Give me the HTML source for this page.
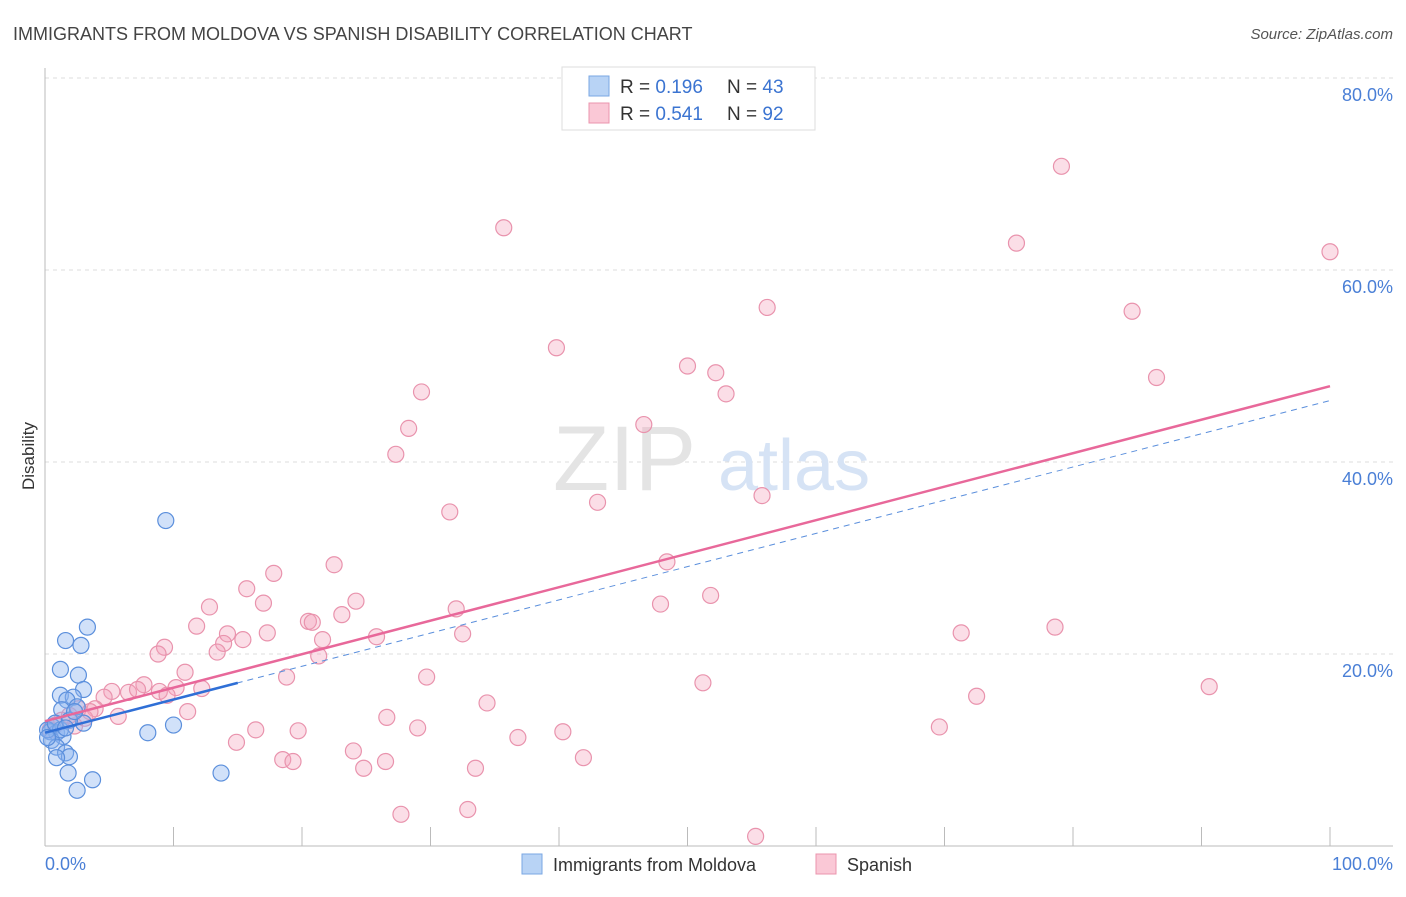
<!DOCTYPE html>
<html><head><meta charset="utf-8"><style>
body{margin:0;background:#fff;font-family:"Liberation Sans",sans-serif;}
svg text{font-family:"Liberation Sans",sans-serif;}
</style></head><body>
<svg id="chart" width="1406" height="892" viewBox="0 0 1406 892" xmlns="http://www.w3.org/2000/svg">
<text x="13" y="40" font-size="18" fill="#444">IMMIGRANTS FROM MOLDOVA VS SPANISH DISABILITY CORRELATION CHART</text>
<text x="1393" y="39" font-size="15" fill="#555" text-anchor="end" font-style="italic">Source: ZipAtlas.com</text>
<g id="grid"></g>
<g><text x="553" y="490" font-size="92" fill="#e4e4e4" font-family="Liberation Serif">ZIP</text><text x="718" y="490" font-size="72" fill="#d6e3f5">atlas</text></g>
<g id="axes"></g>
<g id="pinkPts"></g>
<g id="bluePts"></g>
<g id="lines"></g>
<text transform="translate(34,456) rotate(-90)" font-size="17" fill="#333" text-anchor="middle">Disability</text>
<text x="45" y="870" font-size="18" fill="#4a7fd6">0.0%</text>
<text x="1393" y="870" font-size="18" fill="#4a7fd6" text-anchor="end">100.0%</text>
<g>
<rect x="562" y="67" width="253" height="63" fill="#fff" stroke="#ddd"/>
<rect x="589" y="76" width="20" height="20" fill="#b8d3f5" stroke="#7aa7e3"/>
<text x="620" y="93" font-size="19" fill="#333">R = <tspan fill="#3b74d1">0.196</tspan></text>
<text x="727" y="93" font-size="19" fill="#333">N = <tspan fill="#3b74d1">43</tspan></text>
<rect x="589" y="103" width="20" height="20" fill="#fac8d6" stroke="#eb94ad"/>
<text x="620" y="120" font-size="19" fill="#333">R = <tspan fill="#3b74d1">0.541</tspan></text>
<text x="727" y="120" font-size="19" fill="#333">N = <tspan fill="#3b74d1">92</tspan></text>
</g>
<g>
<rect x="522" y="854" width="20" height="20" fill="#b8d3f5" stroke="#7aa7e3"/>
<text x="553" y="871" font-size="18" fill="#333">Immigrants from Moldova</text>
<rect x="816" y="854" width="20" height="20" fill="#fac8d6" stroke="#eb94ad"/>
<text x="847" y="871" font-size="18" fill="#333">Spanish</text>
</g>
</svg>
<script>
const yTicks=[20,40,60,80];
const yTickLabels=["20.0%","40.0%","60.0%","80.0%"];
const xTicks=[0,10,20,30,40,50,60,70,80,90,100];
const pinkX=[79.1,35.7,75.6,100,56.2,84.6,39.8,50.0,52.2,86.5,29.3,53.0,28.3,46.6,27.3,55.8,43.0,31.5,48.4,22.5,17.8,15.7,51.8,17.0,24.2,12.8,47.9,32.0,23.1,20.5,20.8,11.8,14.2,78.6,17.3,71.3,32.5,21.6,25.8,9.3,13.9,15.4,8.8,13.4,21.3,10.9,18.8,29.7,51.2,90.6,10.2,7.7,12.2,5.2,6.5,7.2,8.9,9.5,72.5,4.6,34.4,11.1,3.9,2.6,5.7,26.6,69.6,29.0,2.3,16.4,19.7,40.3,36.8,14.9,24.0,18.5,19.3,41.9,26.5,24.8,33.5,27.7,32.9,55.3,1.3,1.9,0.4,0.8,3.1,3.5];
const pinkY=[70.8,64.4,62.8,61.9,56.1,55.7,51.9,50.0,49.3,48.8,47.3,47.1,43.5,43.9,40.8,36.5,35.8,34.8,29.6,29.3,28.4,26.8,26.1,25.3,25.5,24.9,25.2,24.7,24.1,23.4,23.3,22.9,22.1,22.8,22.2,22.2,22.1,21.5,21.8,20.7,21.1,21.5,20.0,20.2,19.8,18.1,17.6,17.6,17.0,16.6,16.5,16.8,16.4,16.1,16.0,16.3,16.1,15.7,15.6,15.5,14.9,14.0,14.3,14.3,13.5,13.4,12.4,12.3,12.5,12.1,12.0,11.9,11.3,10.8,9.9,9.0,8.8,9.2,8.8,8.1,8.1,3.3,3.8,1.0,13.1,13.6,12.1,12.6,13.3,14.0];
const blueX=[9.4,3.3,1.6,2.8,1.2,2.6,3.0,1.2,2.2,1.7,2.5,3.0,1.3,0.6,0.4,0.9,1.4,0.5,0.9,1.6,1.9,0.9,1.8,2.5,3.7,8.0,10.0,13.7,0.2,1.2,0.8,1.9,0.2,1.6,2.3];
const blueY=[33.9,22.8,21.4,20.9,18.4,17.8,16.3,15.7,15.5,15.2,14.5,12.8,14.2,12.4,11.9,11.8,11.4,11.0,10.3,9.7,9.3,9.2,7.6,5.8,6.9,11.8,12.6,7.6,12.1,12.1,12.8,13.1,11.3,12.3,14.0];
const pinkTrend=[13.0,47.9];
const blueTrend=[11.8,46.4];
const blueSolidEnd=15;
const NS="http://www.w3.org/2000/svg";
const X=v=>45+v*12.85, Y=v=>846-v*9.6;
function mk(tag,attrs,parent){const e=document.createElementNS(NS,tag);for(const k in attrs)e.setAttribute(k,attrs[k]);parent.appendChild(e);return e;}
const grid=document.getElementById('grid'),axes=document.getElementById('axes');
yTicks.forEach((t,i)=>{
 const l=mk('line',{x1:45,x2:1393,y1:Y(t),y2:Y(t),stroke:'#dcdcdc','stroke-dasharray':'4,4'},grid);
 
 
 const tx=mk('text',{x:1393,y:Y(t)+23,'font-size':18,fill:'#4a7fd6','text-anchor':'end'},grid);
 tx.textContent=yTickLabels[i];
 
 
});
const ya=mk('line',{x1:45,x2:45,y1:68,y2:846,stroke:'#bbb'},axes);


const xa=mk('line',{x1:45,x2:1393,y1:846,y2:846,stroke:'#bbb'},axes);


xTicks.forEach(t=>{
 const l=mk('line',{x1:X(t),x2:X(t),y1:827,y2:846,stroke:'#bbb'},axes);
 
 
});
const pp=document.getElementById('pinkPts');
pinkX.forEach((v,i)=>{
 const c=mk('circle',{cx:X(v),cy:Y(pinkY[i]),r:8,fill:'rgba(244,160,185,0.35)',stroke:'#e993ad','stroke-width':1.2},pp);
 
 
});
const bp=document.getElementById('bluePts');
blueX.forEach((v,i)=>{
 const c=mk('circle',{cx:X(v),cy:Y(blueY[i]),r:8,fill:'rgba(140,180,240,0.4)',stroke:'#5b8fdc','stroke-width':1.2},bp);
 
 
});
const ln=document.getElementById('lines');
const by=x=>blueTrend[0]+(blueTrend[1]-blueTrend[0])*x/100;
const bd=mk('line',{x1:X(0),y1:Y(by(0)),x2:X(100),y2:Y(by(100)),stroke:'#5b8fdc','stroke-width':1,'stroke-dasharray':'6,5'},ln);


const bs=mk('line',{x1:X(0),y1:Y(by(0)),x2:X(blueSolidEnd),y2:Y(by(blueSolidEnd)),stroke:'#2f6fd6','stroke-width':2.5},ln);


const pl=mk('line',{x1:X(0),y1:Y(pinkTrend[0]),x2:X(100),y2:Y(pinkTrend[1]),stroke:'#e8689a','stroke-width':2.5},ln);


</script>
</body></html>
